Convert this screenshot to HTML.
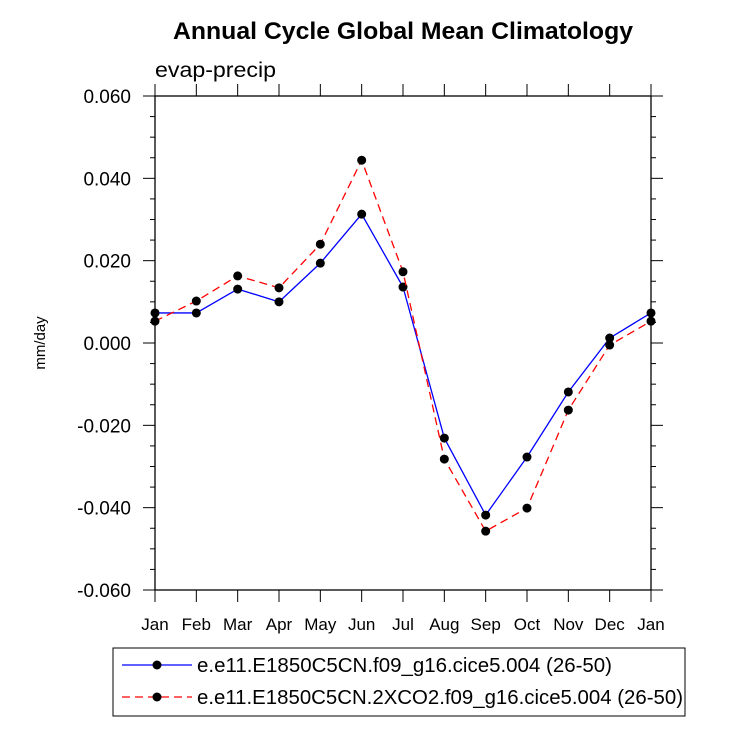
<!DOCTYPE html>
<html><head><meta charset="utf-8"><style>
body{margin:0;background:#fff}
svg text{font-family:"Liberation Sans",sans-serif}
</style></head><body>
<svg width="733" height="734" xmlns="http://www.w3.org/2000/svg">
<text x="173" y="39" font-size="24" font-weight="bold" textLength="460" lengthAdjust="spacingAndGlyphs">Annual Cycle Global Mean Climatology</text>
<text x="155" y="77" font-size="21" textLength="121" lengthAdjust="spacingAndGlyphs">evap-precip</text>
<text transform="translate(45,343) rotate(-90)" text-anchor="middle" font-size="15">mm/day</text>
<g id="axes"></g>
<g id="series"></g>
<rect x="113" y="648" width="572" height="68" fill="none" stroke="#000" stroke-width="1"/>
<g>
<line x1="122" y1="665" x2="192" y2="665" stroke="#00f" stroke-width="1.3"/>
<circle cx="157" cy="665" r="4.5" fill="#000"/>
<text x="197" y="672" font-size="20" textLength="415" lengthAdjust="spacingAndGlyphs">e.e11.E1850C5CN.f09_g16.cice5.004 (26-50)</text>
</g>
<g>
<line x1="122" y1="697" x2="192" y2="697" stroke="#f00" stroke-width="1.3" stroke-dasharray="8,5"/>
<circle cx="157" cy="697" r="4.5" fill="#000"/>
<text x="197" y="704" font-size="20" textLength="486" lengthAdjust="spacingAndGlyphs">e.e11.E1850C5CN.2XCO2.f09_g16.cice5.004 (26-50)</text>
</g>
</svg>
<script>
const months=["Jan","Feb","Mar","Apr","May","Jun","Jul","Aug","Sep","Oct","Nov","Dec","Jan"];
const controlValues=[0.0073,0.0073,0.0131,0.0100,0.0194,0.0313,0.0136,-0.0231,-0.0418,-0.0277,-0.0119,0.0012,0.0073];
const co2Values=[0.0053,0.0102,0.0163,0.0134,0.0240,0.0444,0.0173,-0.0282,-0.0457,-0.0401,-0.0163,-0.0005,0.0053];
const yTicks=[0.06,0.04,0.02,0,-0.02,-0.04,-0.06];
const yTickLabels=["0.060","0.040","0.020","0.000","-0.020","-0.040","-0.060"];
const X0=155,X1=651,Y0=96,Y1=590,ymin=-0.06,ymax=0.06;
const xs=i=>X0+(X1-X0)*i/(months.length-1);
const ys=v=>Y1-(v-ymin)/(ymax-ymin)*(Y1-Y0);
const NS="http://www.w3.org/2000/svg";
function mk(tag,attrs,parent){const e=document.createElementNS(NS,tag);for(const k in attrs)e.setAttribute(k,attrs[k]);parent.appendChild(e);return e;}
const ax=document.getElementById('axes');
const frame=mk('rect',{x:X0,y:Y0,width:X1-X0,height:Y1-Y0,fill:'none',stroke:'#000','stroke-width':1.3},ax);


for(let k=0;k<=24;k++){
  const v=ymin+k*0.005;
  const y=ys(v);const major=k%4===0;const L=major?12:5;
  mk('line',{x1:X0,y1:y,x2:X0-L,y2:y,stroke:'#000'},ax);
  mk('line',{x1:X1,y1:y,x2:X1+L,y2:y,stroke:'#000'},ax);
}
yTicks.forEach((v,i)=>{
  const t=mk('text',{x:131,y:ys(v)+7,'text-anchor':'end','font-size':19},ax);
  t.textContent=yTickLabels[i];
  
  
});
months.forEach((m,i)=>{
  const x=xs(i);
  mk('line',{x1:x,y1:Y1,x2:x,y2:Y1+12,stroke:'#000'},ax);
  mk('line',{x1:x,y1:Y0,x2:x,y2:Y0-12,stroke:'#000'},ax);
  const t=mk('text',{x:x,y:630,'text-anchor':'middle','font-size':17},ax);
  t.textContent=m;
  
  
});
const sg=document.getElementById('series');
function draw(vals,color,dash,name){
  const g=mk('g',{},sg);
  
  
  const p=mk('polyline',{points:vals.map((v,i)=>xs(i)+','+ys(v)).join(' '),fill:'none',stroke:color,'stroke-width':1.3},g);
  if(dash)p.setAttribute('stroke-dasharray',dash);
  vals.forEach((v,i)=>{
    const c=mk('circle',{cx:xs(i),cy:ys(v),r:4.5,fill:'#000'},g);
    
    
  });
}
draw(controlValues,'#00f',null,'series-control');
draw(co2Values,'#f00','8,5','series-2xco2');
</script>
</body></html>
